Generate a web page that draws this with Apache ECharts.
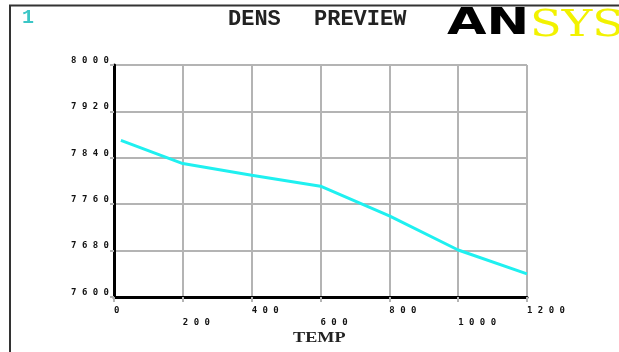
<!DOCTYPE html>
<html>
<head>
<meta charset="utf-8">
<script src="https://cdn.jsdelivr.net/npm/echarts@6/dist/echarts.min.js"></script>
<style>html,body{margin:0;padding:0;background:#fff;}#c{width:619px;height:352px;}</style>
</head>
<body>
<div id="c"></div>
<script>
// Data
const temps = [20, 200, 400, 600, 800, 1000, 1200];
const dens = [7870, 7830, 7810, 7791, 7740, 7681, 7640];
const xName = 'TEMP';
const titleWords = ['DENS', 'PREVIEW'];
const plotNumber = '1';
const logoParts = ['AN', 'SYS'];

const spaced = s => String(s).split('').join(' ');
const points = temps.map((t, i) => [t, dens[i]]);

const chart = echarts.init(document.getElementById('c'), null, {renderer: 'canvas'});
const labelFont = {fontFamily: 'DejaVu Sans Mono', fontWeight: 'bold', fontSize: 9, color: '#111'};

chart.setOption({
  backgroundColor: '#fff',
  animation: false,
  grid: {left: 114, right: 92, top: 65, bottom: 55},
  xAxis: {
    type: 'value', min: 0, max: 1200, interval: 200,
    axisLine: {show: true, onZero: false, lineStyle: {color: '#000', width: 3}},
    axisTick: {show: true, length: 5, lineStyle: {color: '#b4b4b4', width: 2}},
    splitLine: {show: true, lineStyle: {color: '#b4b4b4', width: 2}},
    axisLabel: Object.assign({
      margin: 8, align: 'left', verticalAlign: 'top', lineHeight: 12,
      showMinLabel: true, showMaxLabel: true,
      formatter: v => ((v / 200) % 2 === 1 ? '\n' : '') + spaced(v)
    }, labelFont)
  },
  yAxis: {
    type: 'value', min: 7600, max: 8000, interval: 80,
    axisLine: {show: true, onZero: false, lineStyle: {color: '#000', width: 3}},
    axisTick: {show: true, length: 4, lineStyle: {color: '#b4b4b4', width: 2}},
    splitLine: {show: true, lineStyle: {color: '#b4b4b4', width: 2}},
    axisLabel: Object.assign({
      margin: 5, align: 'right', verticalAlign: 'bottom',
      showMinLabel: true, showMaxLabel: true,
      formatter: v => spaced(v)
    }, labelFont)
  },
  series: [{
    type: 'line', data: points, showSymbol: false, symbol: 'none',
    lineStyle: {color: '#1ff0f0', width: 3}
  }],
  graphic: [
    {type: 'rect', z: 100, silent: true, shape: {x: 10, y: 5.5, width: 700, height: 400},
     style: {fill: 'none', stroke: '#333', lineWidth: 2}},
    {type: 'text', z: 100, x: 22, y: 18,
     style: {text: plotNumber, font: 'bold 20px "Liberation Mono"', fill: '#3cc6c6', textAlign: 'left', textVerticalAlign: 'middle'}},
    {type: 'text', z: 100, x: 228, y: 19,
     style: {text: titleWords[0], font: 'bold 22px "Liberation Mono"', fill: '#222', textAlign: 'left', textVerticalAlign: 'middle'}},
    {type: 'text', z: 100, x: 314, y: 19,
     style: {text: titleWords[1], font: 'bold 22px "Liberation Mono"', fill: '#222', textAlign: 'left', textVerticalAlign: 'middle'}},
    {type: 'text', z: 100, x: 447, y: 24, scaleX: 1.38, originX: 0,
     style: {text: logoParts[0], font: '900 37px "DejaVu Sans"', fill: '#000', textAlign: 'left', textVerticalAlign: 'middle'}},
    {type: 'text', z: 100, x: 530, y: 26, scaleX: 1.25, originX: 0,
     style: {text: logoParts[1], font: '37px "DejaVu Serif"', fill: '#f2f200', textAlign: 'left', textVerticalAlign: 'middle'}},
    {type: 'text', z: 100, x: 293, y: 338, scaleX: 1.3, originX: 0,
     style: {text: xName, font: 'bold 14px "Liberation Serif"', fill: '#222', textAlign: 'left', textVerticalAlign: 'middle'}}
  ]
});
</script>
</body>
</html>
